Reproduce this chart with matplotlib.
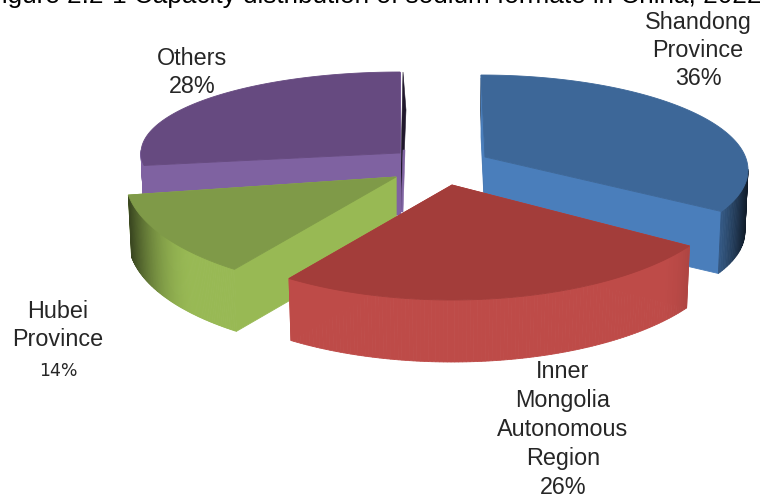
import numpy as np
import matplotlib
matplotlib.use("Agg")
import matplotlib.pyplot as plt

title = "Figure 2.2-1 Capacity distribution of sodium formate in China, 2022"
regions = ["Shandong\nProvince", "Inner\nMongolia\nAutonomous\nRegion", "Hubei\nProvince", "Others"]
shares = [36, 26, 14, 28]

# per-slice projection of the exploded 3D pie (pixel space)
geom = {
    "Shandong\nProvince": dict(apex=(485, 157), c=(481, 170), rx=267, ry=95, off=0, st=0.93,
                               top="#3d6798", side="#4a7ebb", dark=0.78),
    "Inner\nMongolia\nAutonomous\nRegion": dict(apex=(452, 185), c=(452, 185), rx=280, ry=115, off=-7.6, st=1.04,
                                                top="#a33d3a", side="#be4b48", dark=0.5),
    "Hubei\nProvince": dict(apex=(396, 177), c=(396, 177), rx=271, ry=115, off=20, st=0.916,
                            top="#7f9a48", side="#98b954", dark=0.68),
    "Others": dict(apex=(400, 153), c=(400, 153), rx=259, ry=81, off=-7.2, st=1.02,
                   top="#664a80", side="#7f62a1", dark=0.0),
}
DEPTH = 62


def shade(col, f):
    return tuple(np.array(matplotlib.colors.to_rgb(col)) * f)


fig = plt.figure(figsize=(7.6, 4.99), dpi=100)
ax = fig.add_axes([0, 0, 1, 1])
ax.set_xlim(0, 760)
ax.set_ylim(499, 0)
ax.axis("off")

fractions = np.array(shares) / np.sum(shares)
ends = np.cumsum(fractions) * 360
starts = ends - fractions * 360
spans = {r: (s, e) for r, s, e in zip(regions, starts, ends)}


def draw(region, z):
    g = geom[region]
    s, e = spans[region]
    t = np.radians(g["off"] + g["st"] * np.linspace(s, e, 120))
    ax_, ay = g["apex"]
    x = g["c"][0] + g["rx"] * np.sin(t)
    y = g["c"][1] - g["ry"] * np.cos(t)
    xb = x - 0.012 * (x - ax_)
    yb = y + DEPTH
    kw = dict(zorder=z, linewidth=0.6)
    # radial faces
    ax.fill([ax_, x[-1], xb[-1], ax_], [ay, y[-1], yb[-1], ay + DEPTH], color=g["side"], **kw)
    ax.fill([ax_, x[0], xb[0], ax_], [ay, y[0], yb[0], ay + DEPTH], color=g["side"], **kw)
    # outer wall with gradient toward the silhouette
    for i in range(len(t) - 1):
        if np.cos(t[i]) > 0.02:
            continue
        k = np.clip((abs(np.sin(t[i])) - 0.75) / 0.25, 0, 1) ** 2
        c = shade(g["side"], 1 - g["dark"] * k)
        ax.fill([x[i], x[i + 1], xb[i + 1], xb[i]], [y[i], y[i + 1], yb[i + 1], yb[i]], color=c, **kw)
    # top surface
    ax.fill(np.r_[ax_, x], np.r_[ay, y], color=g["top"], **kw)
    return x, y


# dark slivers at the inner walls
draw(regions[3], 2)
ax.fill([403, 406, 402, 400], [72, 110, 210, 210], color="#20182c", zorder=1.5, linewidth=0.4)
ax.fill([403, 405, 403, 401], [150, 150, 212, 212], color="#8064a2", zorder=1.6, linewidth=0.4)
draw(regions[0], 3)
ax.fill([481, 480.5, 484, 486], [78, 110, 192, 192], color="#101a28", zorder=2.9, linewidth=0.4)
draw(regions[2], 4)
draw(regions[1], 5)

txt = dict(ha="center", va="center", color="#262626", family="Liberation Sans", fontsize=16.8,
           linespacing=1.0, zorder=10)
ax.text(761, 3, title, ha="right", va="baseline", color="black", family="Liberation Sans", fontsize=18.8)


def label(x, ys, lines, **kw):
    for yy, line in zip(ys, lines):
        ax.text(x, yy, line, **{**txt, **kw})


label(698, [22, 50, 78], regions[0].split("\n") + [f"{shares[0]}%"])
label(563, [372, 400, 429, 459, 488], regions[1].split("\n") + [f"{shares[1]}%"])
label(58, [311, 339], regions[2].split("\n"))
ax.text(58, 371, f"{shares[2]}%", ha="center", va="center", color="#262626", family="DejaVu Sans", fontsize=12.5)
label(192, [58, 86], [regions[3], f"{shares[3]}%"])

fig.savefig("out.png", dpi=100)
